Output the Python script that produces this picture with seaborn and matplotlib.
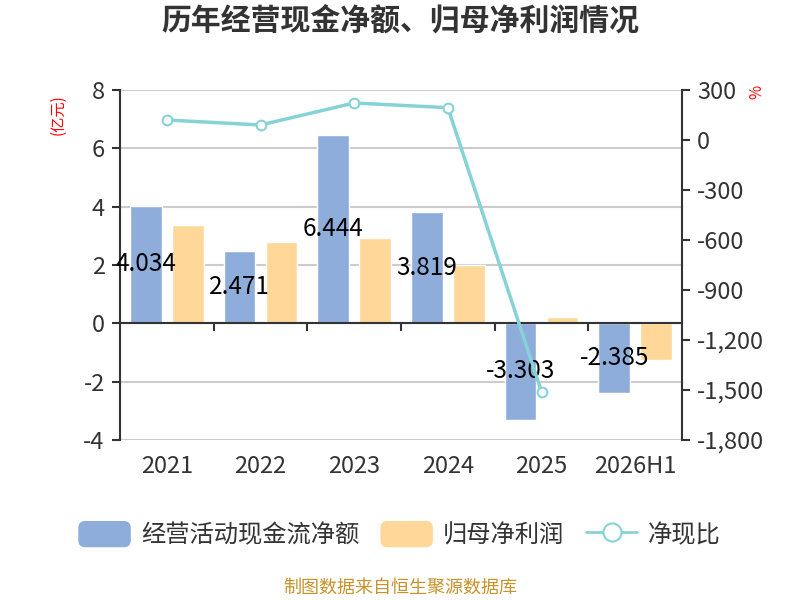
import numpy as np
import pandas as pd
import matplotlib
matplotlib.use("Agg")
import matplotlib.pyplot as plt
import seaborn as sns
from matplotlib.patches import FancyBboxPatch, Patch
from matplotlib.lines import Line2D
from matplotlib.legend_handler import HandlerPatch
from matplotlib.ticker import FuncFormatter, FixedLocator

# 数据（单位：亿元 / %）
years = ["2021", "2022", "2023", "2024", "2025", "2026H1"]
cash_flow = [4.034, 2.471, 6.444, 3.819, -3.303, -2.385]
net_profit = [3.37, 2.78, 2.91, 2.00, 0.22, -1.26]
cash_ratio = [120, 90, 222, 194, -1510, np.nan]

blue = "#8EADDB"
orange = "#FFD899"
teal = "#86D3D7"
dark = "#333333"

sns.set_theme(style="white")
plt.rcParams['font.family'] = ['Noto Sans CJK SC', 'DejaVu Sans']
plt.rcParams['axes.unicode_minus'] = False

df = pd.DataFrame({
    "年份": years * 2,
    "值": cash_flow + net_profit,
    "项目": ["经营活动现金流净额"] * 6 + ["归母净利润"] * 6,
})

fig = plt.figure(figsize=(8, 6), dpi=100)
ax = fig.add_axes([0.15, 0.2667, 0.7025, 0.5833])

sns.barplot(data=df, x="年份", y="值", hue="项目", palette=[blue, orange],
            width=0.9, gap=0.245, saturation=1, errorbar=None,
            legend=False, ax=ax)

# 柱子中间的数值标签（只标经营现金流）
ax.bar_label(ax.containers[0], labels=[f"{v:.3f}" for v in cash_flow],
             label_type="center", fontsize=17.5, color="black")

ax.set_xlim(-0.5, 5.5)
ax.set_ylim(-4, 8)
ax.set_yticks(range(-4, 9, 2))
ax.set_xlabel("")
ax.set_ylabel("")
ax.yaxis.grid(True, color="#cccccc", lw=1.5)
ax.set_axisbelow(True)

for s in ["top", "right"]:
    ax.spines[s].set_visible(False)
ax.spines["left"].set_color(dark)
ax.spines["left"].set_linewidth(1.5)
ax.spines["bottom"].set_position(("data", 0))
ax.spines["bottom"].set_color(dark)
ax.spines["bottom"].set_linewidth(1.5)

ax.tick_params(axis="y", left=True, length=6, width=1.5, color=dark,
               pad=5, labelsize=17, labelcolor=dark)
ax.tick_params(axis="x", which="major", length=0, labelbottom=False)
ax.xaxis.set_minor_locator(FixedLocator([0.5, 1.5, 2.5, 3.5, 4.5]))
ax.tick_params(axis="x", which="minor", bottom=True, length=6, width=1.5,
               color=dark, direction="out")

# 年份标签放在图底部
sec = ax.secondary_xaxis("bottom")
sec.set_xticks(range(len(years)), years)
sec.spines["bottom"].set_visible(False)
sec.tick_params(length=0, pad=11, labelsize=17, labelcolor=dark)

# 净现比折线（右轴）
ax2 = ax.twinx()
sns.lineplot(x=np.arange(len(years)), y=cash_ratio, ax=ax2, color=teal,
             lw=2.5, marker="o", markersize=7, markerfacecolor="white",
             markeredgecolor=teal, markeredgewidth=1.5)
ax2.set_ylim(-1800, 300)
ax2.set_yticks(range(-1800, 301, 300))
ax2.yaxis.set_major_formatter(FuncFormatter(lambda v, p: f"{int(v):,}"))
ax2.grid(False)
for s in ["top", "left", "bottom"]:
    ax2.spines[s].set_visible(False)
ax2.spines["right"].set_color(dark)
ax2.spines["right"].set_linewidth(1.5)
ax2.tick_params(axis="y", right=True, length=6, width=1.5, color=dark,
                pad=5, labelsize=17, labelcolor=dark)

# 标题和单位
fig.text(0.5, 1 - 22 / 600, "历年经营现金净额、归母净利润情况", ha="center",
         va="center", fontsize=21.5, fontweight="bold", color=dark)
fig.text(58 / 800, 1 - 115 / 600, "(亿元)", rotation=90, ha="center",
         va="center", fontsize=11, color="red")
fig.text(757 / 800, 1 - 92 / 600, "%", rotation=90, ha="center",
         va="center", fontsize=11, color="red")


def rounded(legend, orig_handle, xdescent, ydescent, width, height, fontsize):
    return FancyBboxPatch((-xdescent, -ydescent), width, height,
                          boxstyle=f"round,pad=0,rounding_size={height * 0.25}")


handles = [Patch(color=blue), Patch(color=orange),
           Line2D([], [], color=teal, lw=2, marker="o", markersize=13,
                  markerfacecolor="white", markeredgecolor=teal,
                  markeredgewidth=1.5)]
labels = ["经营活动现金流净额", "归母净利润", "净现比"]
leg = fig.legend(handles, labels, loc="center", bbox_to_anchor=(0.5, 1 - 535 / 600),
                 ncol=3, frameon=False, fontsize=17.5, handlelength=2.1,
                 handleheight=1.2, handletextpad=0.45, columnspacing=0.9,
                 handler_map={Patch: HandlerPatch(patch_func=rounded)})
for t in leg.get_texts():
    t.set_color(dark)

fig.text(0.5, 1 - 588 / 600, "制图数据来自恒生聚源数据库", ha="center",
         va="center", fontsize=13, color="#C8922A")

fig.savefig("out.png", dpi=100)
